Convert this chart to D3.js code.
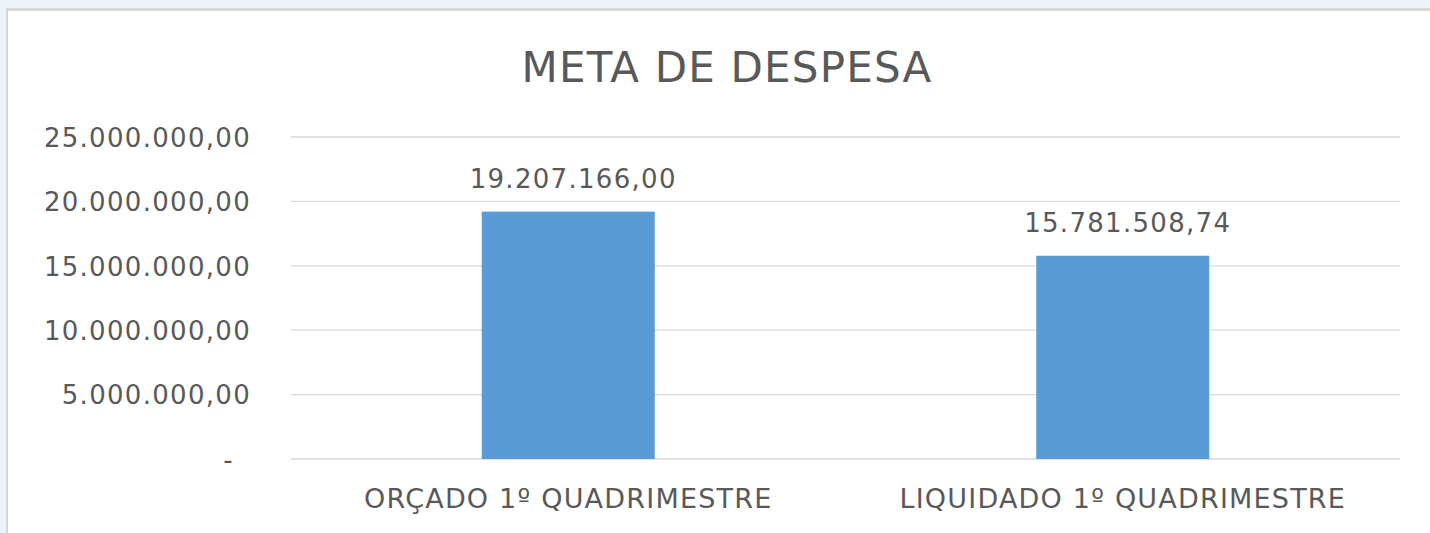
<!DOCTYPE html>
<html><head><meta charset="utf-8">
<script src="https://cdn.jsdelivr.net/npm/d3@7"></script>
<style>
html,body{margin:0;padding:0;background:#eef3f9;}
svg{display:block;}
</style></head>
<body>
<svg id="chart" width="1430" height="533"></svg>
<script>
const title = "META DE DESPESA";
const categories = ["ORÇADO 1º QUADRIMESTRE", "LIQUIDADO 1º QUADRIMESTRE"];
const values = [19207166.00, 15781508.74];
const yTicks = [0, 5000000, 10000000, 15000000, 20000000, 25000000];

const svg = d3.select("#chart");
const W = 1430, H = 533;
const font = "'DejaVu Sans', sans-serif";
const textColor = "#595959";

// panel
svg.append("rect").attr("x", 6).attr("y", 8).attr("width", W - 6).attr("height", H - 8).attr("fill", "#d6d6d6");
svg.append("rect").attr("x", 8).attr("y", 11).attr("width", W - 8).attr("height", H - 11).attr("fill", "#ffffff");

const m = {left: 291, right: 1400, top: 137, bottom: 459};
const x = d3.scaleBand().domain(categories).range([m.left, m.right]).paddingInner(0.688).paddingOuter(0.344);
const y = d3.scaleLinear().domain([0, 25000000]).range([m.bottom, m.top]);

const loc = d3.formatLocale({decimal: ",", thousands: ".", grouping: [3], currency: ["", ""]});
const fmt = v => v === 0 ? "-" : loc.format(",.2f")(v);

// gridlines
svg.append("g").selectAll("line").data(yTicks).join("line")
  .attr("x1", m.left).attr("x2", m.right)
  .attr("y1", d => y(d)).attr("y2", d => y(d))
  .attr("stroke", "#d9d9d9").attr("stroke-width", 1.3);

// y axis labels
const yAxis = d3.axisLeft(y).tickValues(yTicks).tickSize(0).tickPadding(0).tickFormat(fmt);
const gy = svg.append("g").attr("transform", `translate(251,0)`).call(yAxis);
gy.select(".domain").remove();
gy.selectAll("text").attr("font-family", font).attr("font-size", 26).attr("letter-spacing", 1.3)
  .attr("fill", textColor).attr("dy", "0.36em")
  .attr("dx", d => d === 0 ? -17 : 0);

// bars
svg.append("g").selectAll("rect").data(values).join("rect")
  .attr("x", (d, i) => x(categories[i]))
  .attr("width", x.bandwidth())
  .attr("y", d => y(d))
  .attr("height", d => y(0) - y(d))
  .attr("fill", "#5b9bd5");

// value labels
svg.append("g").selectAll("text").data(values).join("text")
  .attr("x", (d, i) => x(categories[i]) + x.bandwidth() / 2 + 5)
  .attr("y", d => y(d) - 24)
  .attr("text-anchor", "middle")
  .attr("font-family", font).attr("font-size", 26).attr("letter-spacing", 1.3).attr("fill", textColor)
  .text(fmt);

// x axis labels
const xAxis = d3.axisBottom(x).tickSize(0).tickPadding(0);
const gx = svg.append("g").attr("transform", `translate(0,${m.bottom})`).call(xAxis);
gx.select(".domain").remove();
gx.selectAll("text").attr("font-family", font).attr("font-size", 27).attr("letter-spacing", 1.2)
  .attr("fill", textColor).attr("dy", null).attr("y", 49);

// title
svg.append("text").attr("x", 727).attr("y", 82).attr("text-anchor", "middle")
  .attr("font-family", font).attr("font-size", 42).attr("letter-spacing", 1.2).attr("fill", textColor).text(title);
</script>
</body></html>
